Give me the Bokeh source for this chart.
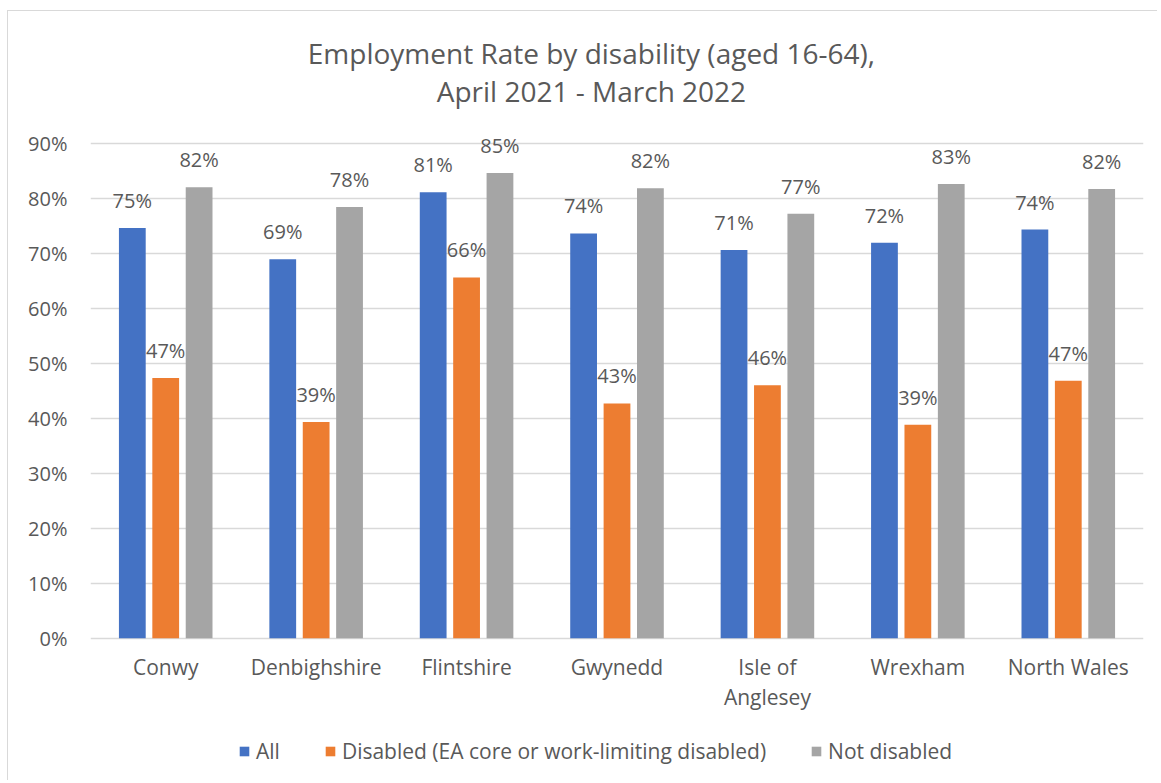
from bokeh.plotting import figure
from bokeh.models import (ColumnDataSource, FactorRange, Range1d, FixedTicker,
                          NumeralTickFormatter, LabelSet, Label, Legend, LegendItem)
from bokeh.transform import dodge
from bokeh.core.properties import value
from bokeh.embed import file_html
from bokeh.resources import INLINE

# ---------------- data ----------------
categories = ["Conwy", "Denbighshire", "Flintshire", "Gwynedd",
              "Isle of\nAnglesey", "Wrexham", "North Wales"]
all_rate = [0.746, 0.689, 0.811, 0.736, 0.706, 0.719, 0.743]
disabled_rate = [0.473, 0.393, 0.656, 0.427, 0.460, 0.388, 0.468]
not_disabled_rate = [0.820, 0.784, 0.846, 0.818, 0.772, 0.826, 0.817]
series_names = ["All", "Disabled (EA core or work-limiting disabled)", "Not disabled"]
y_ticks = [0.0, 0.1, 0.2, 0.3, 0.4, 0.5, 0.6, 0.7, 0.8, 0.9]
title_lines = ["Employment Rate by disability (aged 16-64),", "April 2021 - March 2022"]

# ---------------- style ----------------
FONT = "Open Sans"
TXT = "#595959"
GRID = "#d9d9d9"
colors = ["#4472C4", "#ED7D31", "#A5A5A5"]
offsets = [-0.222, 0.0, 0.222]
bar_w = 0.178

series = [all_rate, disabled_rate, not_disabled_rate]
data = {"cat": categories,
        "line1": [c.split("\n")[0] for c in categories],
        "line2": [c.split("\n")[1] if "\n" in c else "" for c in categories]}
for k, vals in enumerate(series):
    data[f"s{k}"] = vals
    data[f"l{k}"] = [f"{round(v * 100)}%" for v in vals]
src = ColumnDataSource(data)

p = figure(x_range=FactorRange(*categories), y_range=Range1d(-0.2605, 1.1395),
           width=1150, height=770, output_backend="svg", toolbar_location=None,
           min_border_left=82, min_border_right=15, min_border_top=0,
           min_border_bottom=0)
p.title.visible = False
p.outline_line_color = None
p.background_fill_color = "white"
p.border_fill_color = "white"
p.styles = {"margin-left": "7px", "margin-top": "10px",
            "border-left": "1px solid #d9d9d9", "border-top": "1px solid #d9d9d9"}

renderers = []
for k in range(3):
    r = p.vbar(x=dodge("cat", offsets[k], range=p.x_range), top=f"s{k}", width=bar_w,
               source=src, fill_color=colors[k], line_color=None)
    renderers.append(r)
    p.add_layout(LabelSet(x=dodge("cat", offsets[k], range=p.x_range), y=f"s{k}",
                          text=f"l{k}", source=src, text_align="center",
                          text_baseline="alphabetic", y_offset=20,
                          text_font=value(FONT), text_font_size=value("20px"),
                          text_color=TXT))

# category labels (drawn below the 0% line)
p.text(x="cat", y=-0.0532, text="line1", source=src, text_align="center",
       text_baseline="alphabetic", text_font=value(FONT),
       text_font_size=value("21px"), text_color=TXT)
p.text(x="cat", y=-0.106, text="line2", source=src, text_align="center",
       text_baseline="alphabetic", text_font=value(FONT),
       text_font_size=value("21px"), text_color=TXT)

# axes
p.xaxis.visible = False
p.yaxis.ticker = FixedTicker(ticks=y_ticks)
p.yaxis.formatter = NumeralTickFormatter(format="0%")
p.yaxis.axis_line_color = None
p.yaxis.major_tick_line_color = None
p.yaxis.minor_tick_line_color = None
p.yaxis.major_tick_out = 0
p.yaxis.major_tick_in = 0
p.yaxis.major_label_standoff = 23
p.yaxis.major_label_text_font = FONT
p.yaxis.major_label_text_font_size = "20px"
p.yaxis.major_label_text_color = TXT

p.xgrid.grid_line_color = None
p.ygrid.grid_line_color = GRID
p.ygrid.grid_line_width = 1.3

# title lines
title_y = [1.0635, 0.9945]
for t, ty in zip(title_lines, title_y):
    p.add_layout(Label(x=3.33, y=ty, text=t, text_align="center",
                       text_baseline="alphabetic", text_font=FONT,
                       text_font_size="28px", text_color=TXT))

legend = Legend(items=[LegendItem(label=series_names[k], renderers=[renderers[k]])
                       for k in range(3)],
                orientation="horizontal", location=(148, 16),
                label_text_font=FONT, label_text_font_size="21px",
                label_text_color=TXT, glyph_width=12, glyph_height=12,
                label_standoff=6, spacing=44, padding=0, margin=0,
                border_line_color=None, background_fill_alpha=0)
p.add_layout(legend)

open("out.html", "w").write(file_html(p, INLINE))
